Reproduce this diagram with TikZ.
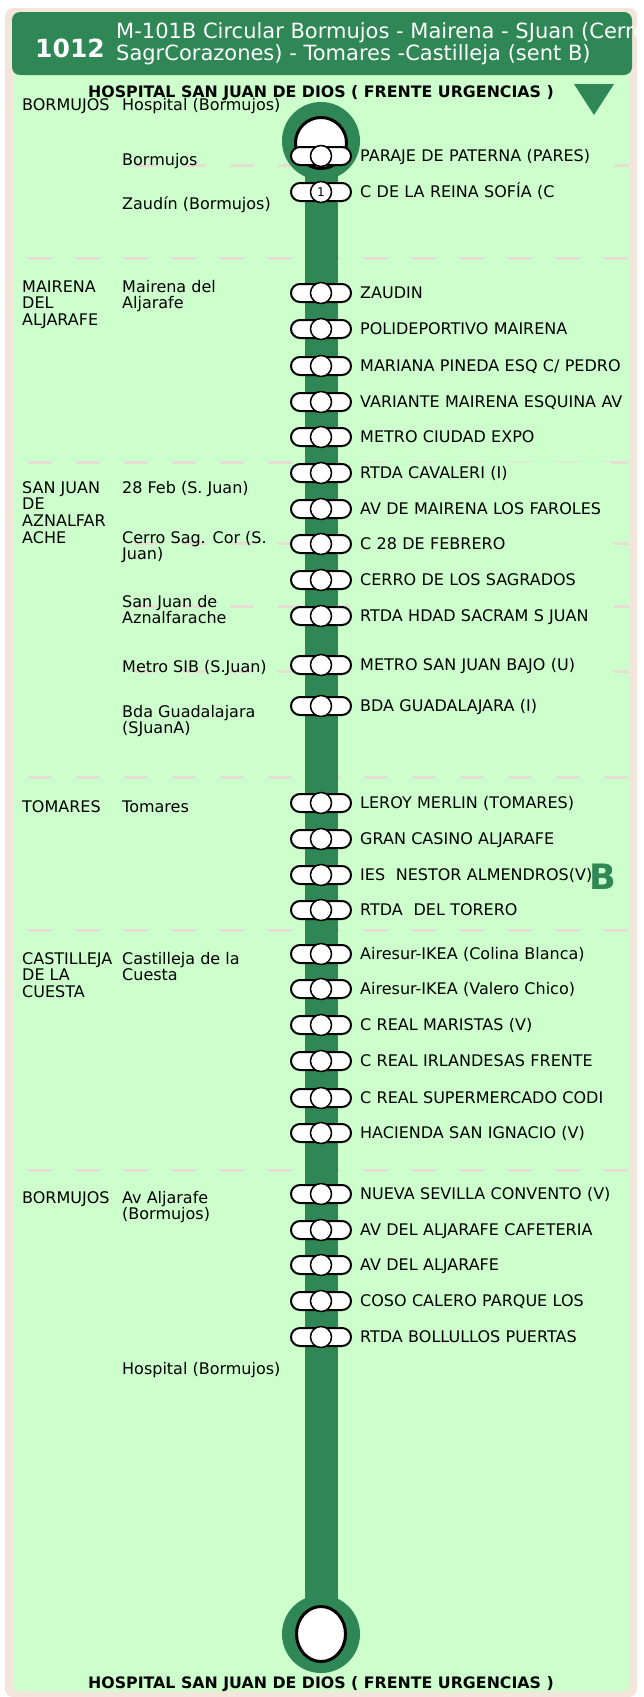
\documentclass[tikz,border=0pt]{standalone}
\usepackage{fontspec}
\setmainfont{DejaVu Sans}
\usetikzlibrary{positioning,shapes.geometric}
\definecolor{linegreen}{RGB}{46,135,84}
\definecolor{panelgreen}{RGB}{204,255,204}
\definecolor{framebeige}{RGB}{242,230,218}
\definecolor{sepgrey}{RGB}{230,222,210}
\tikzset{
  capsule/.style={
    draw=black,
    fill=white,
    line width=2pt,
    rounded corners=9pt,
    minimum width=60pt,
    minimum height=18pt,
    inner sep=0pt
  },
  ring/.style={
    shape=circle,
    draw=black,
    fill=white,
    line width=1.5pt,
    minimum size=21pt,
    inner sep=0pt,
    font=\fontsize{12}{12}\selectfont
  },
  terminal/.style={
    shape=circle,
    fill=linegreen,
    minimum size=78pt,
    inner sep=0pt
  },
  route/.style={
    draw=linegreen,
    line width=33pt
  },
  sepline/.style={
    draw=sepgrey,
    line width=3pt,
    dash pattern=on 24pt off 24pt
  },
  stoplbl/.style={
    fill=panelgreen,
    text width=250pt,
    align=left,
    inner xsep=0pt,
    inner ysep=5pt,
    text height=11.6pt,
    text depth=0pt,
    font=\fontsize{16}{16.7}\selectfont
  },
  townlbl/.style={
    anchor=base west,
    align=left,
    inner sep=0pt,
    font=\fontsize{16}{16.7}\selectfont
  },
  endlbl/.style={
    inner sep=0pt,
    font=\bfseries\fontsize{15.8}{16.7}\selectfont
  }
}
\begin{document}
\begin{tikzpicture}[x=1pt,y=-1pt]
    \def\lx{321}
    \useasboundingbox (0,0) rectangle (644,1697);
    \fill[white] (0,0) rectangle (644,1697);
    \fill[framebeige, rounded corners=8pt] (5,8) rectangle (637,1697);
    \fill[panelgreen, rounded corners=6pt] (13,60) rectangle (629,1691);
    \fill[linegreen, rounded corners=8pt] (12,12) rectangle (632,75);
    % header
    \node[white, inner sep=0pt, anchor=west, font=\bfseries\fontsize{25}{25}\selectfont] (num) at (35,48) {1012};
    \node[white, anchor=base west, align=left, inner sep=0pt, font=\fontsize{21}{20}\selectfont] (title) at (116,60)
        {M-101B Circular Bormujos - Mairena - SJuan (Cerro\\SagrCorazones) - Tomares -Castilleja (sent B)};
    \fill[linegreen] (574,84) -- (614,84) -- (594,115) -- cycle;
    % separators
    \foreach \y in {258, 462, 777, 930, 1170}{
        \draw[sepline] (28,\y) -- (629,\y);
    }
    \foreach \y in {165, 543, 606, 671}{
        \draw[sepline] (134,\y) -- (629,\y);
    }
    % line
    \node[terminal] (top) at (\lx,141) {};
    \node[terminal] (bot) at (\lx,1634) {};
    \draw[route] (top.center) -- (bot.center);
    \node[shape=circle, draw, fill=white, line width=3pt, minimum size=51pt, inner sep=0pt] (topdome) at (\lx,143) {};
    \node[shape=ellipse, draw, fill=white, line width=3pt, minimum width=49pt, minimum height=55pt, inner sep=0pt] (botdome) at (\lx,1634) {};
    \foreach \y/\txt [count=\i] in {
        156/{PARAJE DE PATERNA (PARES)},
        192/{C DE LA REINA SOFÍA (C},
        293/{ZAUDIN},
        329/{POLIDEPORTIVO MAIRENA},
        366/{MARIANA PINEDA ESQ C/ PEDRO},
        402/{VARIANTE MAIRENA ESQUINA AV},
        437/{METRO CIUDAD EXPO},
        473/{RTDA CAVALERI (I)},
        509/{AV DE MAIRENA LOS FAROLES},
        544/{C 28 DE FEBRERO},
        580/{CERRO DE LOS SAGRADOS},
        616/{RTDA HDAD SACRAM S JUAN},
        665/{METRO SAN JUAN BAJO (U)},
        706/{BDA GUADALAJARA (I)},
        803/{LEROY MERLIN (TOMARES)},
        839/{GRAN CASINO ALJARAFE},
        875/{IES\ \ NESTOR ALMENDROS(V)},
        910/{RTDA\ \ DEL TORERO},
        954/{Airesur-IKEA (Colina Blanca)},
        989/{Airesur-IKEA (Valero Chico)},
        1025/{C REAL MARISTAS (V)},
        1061/{C REAL IRLANDESAS FRENTE},
        1098/{C REAL SUPERMERCADO CODI},
        1133/{HACIENDA SAN IGNACIO (V)},
        1194/{NUEVA SEVILLA CONVENTO (V)},
        1230/{AV DEL ALJARAFE CAFETERIA},
        1265/{AV DEL ALJARAFE},
        1301/{COSO CALERO PARQUE LOS},
        1337/{RTDA BOLLULLOS PUERTAS}}{
        \node[capsule] (st\i) at (\lx,\y) {};
        \node[ring] (rg\i) at (st\i.center) {\ifnum\i=2 1\fi};
        \node[stoplbl, right=8pt of st\i] (lb\i) {\mbox{\txt}};
    }
    \node[text=linegreen, inner sep=0pt, font=\bfseries\fontsize{35}{35}\selectfont] (brand) at (603,877) {B};
    % terminus names
    \node[endlbl] (topname) at (\lx,93.5) {HOSPITAL SAN JUAN DE DIOS ( FRENTE URGENCIAS )};
    \node[endlbl] (botname) at (\lx,1684) {HOSPITAL SAN JUAN DE DIOS ( FRENTE URGENCIAS )};
    % towns and zones (base = last line)
    \node[townlbl] (tBor) at (22,110) {BORMUJOS};
    \node[townlbl] (zHos) at (122,110) {Hospital (Bormujos)};
    \node[townlbl] (zBor) at (122,165) {Bormujos};
    \node[townlbl] (zZau) at (122,209) {Zaudín (Bormujos)};
    \node[townlbl] (tMai) at (22,325.4) {MAIRENA\\DEL\\ALJARAFE};
    \node[townlbl] (zMai) at (122,308.7) {Mairena del\\Aljarafe};
    \node[townlbl] (tSJ) at (22,543.1) {SAN JUAN\\DE\\AZNALFAR\\ACHE};
    \node[townlbl] (z28) at (122,493) {28 Feb (S. Juan)};
    \node[townlbl] (zCer) at (122,559.7) {Cerro Sag. Cor (S.\\Juan)};
    \node[townlbl] (zSJ) at (122,623.7) {San Juan de\\Aznalfarache};
    \node[townlbl] (zMet) at (122,672) {Metro SIB (S.Juan)};
    \node[townlbl] (zBda) at (122,733.7) {Bda Guadalajara\\(SJuanA)};
    \node[townlbl] (tTom) at (22,812) {TOMARES};
    \node[townlbl] (zTom) at (122,812) {Tomares};
    \node[townlbl] (tCas) at (22,997.4) {CASTILLEJA\\DE LA\\CUESTA};
    \node[townlbl] (zCas) at (122,980.7) {Castilleja de la\\Cuesta};
    \node[townlbl] (tBor2) at (22,1203) {BORMUJOS};
    \node[townlbl] (zAv) at (122,1219.7) {Av Aljarafe\\(Bormujos)};
    \node[townlbl] (zHos2) at (122,1374) {Hospital (Bormujos)};
\end{tikzpicture}
\end{document}
